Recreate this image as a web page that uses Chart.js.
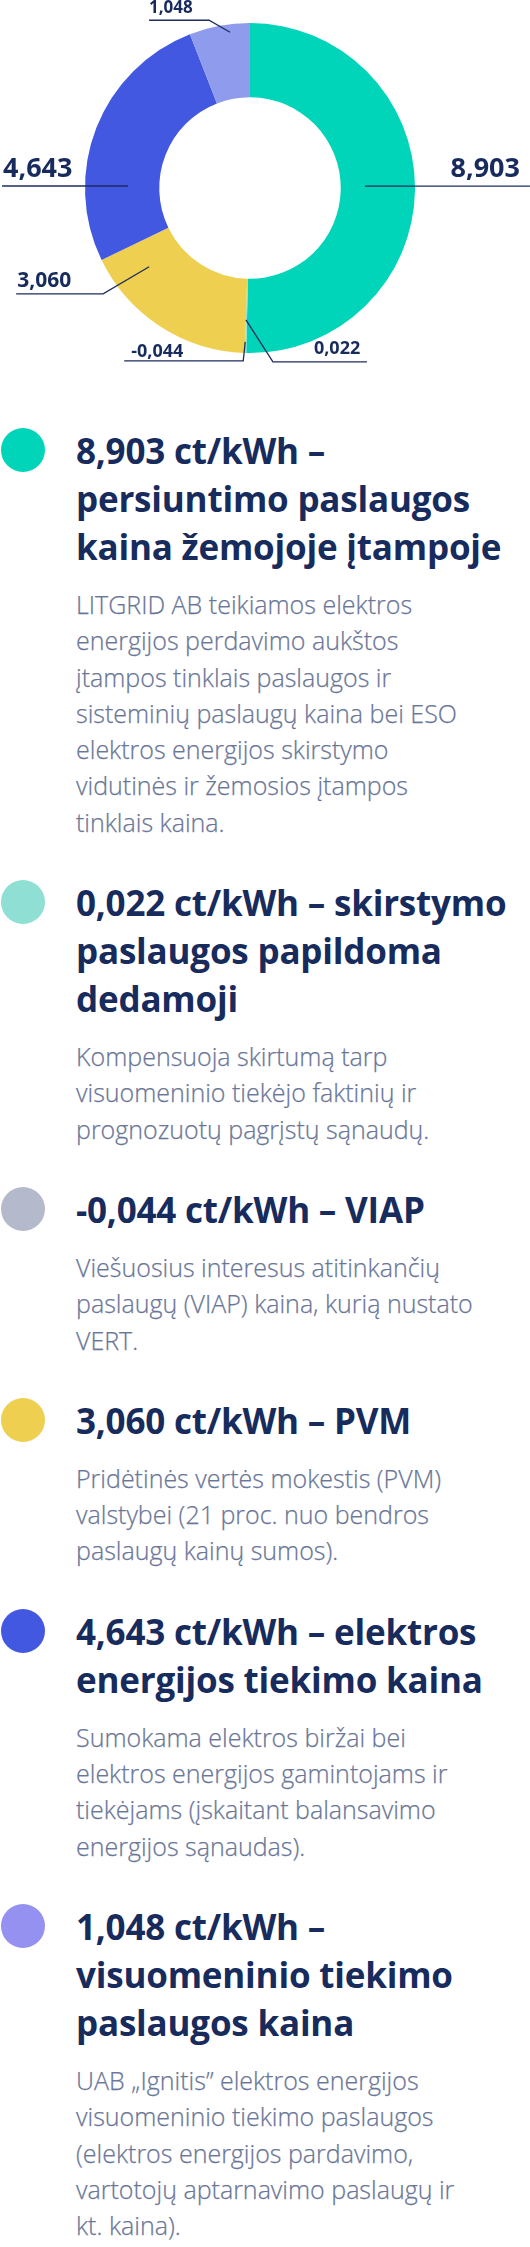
<!DOCTYPE html>
<html lang="lt">
<head>
<meta charset="utf-8">
<script src="https://cdn.jsdelivr.net/npm/chart.js@4/dist/chart.umd.min.js"></script>
<style>
  html, body { margin: 0; padding: 0; background: #ffffff; }
  body { width: 530px; height: 2247px; position: relative; overflow: hidden; font-family: "Open Sans", sans-serif; }
  #chartWrap { position: absolute; left: 0; top: 0; width: 530px; height: 376px; }
  #legend { position: absolute; left: 0; top: 427px; width: 530px; }
  .item { position: relative; padding-left: 76px; }
  .item + .item { margin-top: 39px; }
  .dot { position: absolute; left: 1px; top: 1px; width: 44px; height: 44px; border-radius: 50%; }
  .head { font-weight: 700; font-size: 35px; line-height: 48px; color: #172b5d; white-space: nowrap; letter-spacing: -0.2px; }
  .desc { margin-top: 15px; font-weight: 300; font-size: 25px; line-height: 36.3px; color: #6a7697; white-space: nowrap; -webkit-text-stroke: 0.25px #6a7697; }
</style>
</head>
<body>
<div id="chartWrap"><canvas id="c" width="530" height="376"></canvas></div>
<div id="legend"></div>
<script>
// ---- data ----
const categories = [
  'Persiuntimo paslaugos kaina žemojoje įtampoje',
  'Skirstymo paslaugos papildoma dedamoji',
  'VIAP',
  'PVM',
  'Elektros energijos tiekimo kaina',
  'Visuomeninio tiekimo paslaugos kaina'
];
const values = [8.903, 0.022, -0.044, 3.060, 4.643, 1.048];
const unit = 'ct/kWh';
const headTails = [
  ['', 'persiuntimo paslaugos', 'kaina žemojoje įtampoje'],
  ['skirstymo', 'paslaugos papildoma', 'dedamoji'],
  ['VIAP'],
  ['PVM'],
  ['elektros', 'energijos tiekimo kaina'],
  ['', 'visuomeninio tiekimo', 'paslaugos kaina']
];
const descLines = [
  ['LITGRID AB teikiamos elektros', 'energijos perdavimo aukštos', 'įtampos tinklais paslaugos ir', 'sisteminių paslaugų kaina bei ESO', 'elektros energijos skirstymo', 'vidutinės ir žemosios įtampos', 'tinklais kaina.'],
  ['Kompensuoja skirtumą tarp', 'visuomeninio tiekėjo faktinių ir', 'prognozuotų pagrįstų sąnaudų.'],
  ['Viešuosius interesus atitinkančių', 'paslaugų (VIAP) kaina, kurią nustato', 'VERT.'],
  ['Pridėtinės vertės mokestis (PVM)', 'valstybei (21 proc. nuo bendros', 'paslaugų kainų sumos).'],
  ['Sumokama elektros biržai bei', 'elektros energijos gamintojams ir', 'tiekėjams (įskaitant balansavimo', 'energijos sąnaudas).'],
  ['UAB „Ignitis” elektros energijos', 'visuomeninio tiekimo paslaugos', '(elektros energijos pardavimo,', 'vartotojų aptarnavimo paslaugų ir', 'kt. kaina).']
];

// ---- styles ----
const sliceColors = ['#00d4b9', '#8fdfd5', '#b4b9cc', '#eecf4f', '#4358e0', '#8f9bec'];
const markerColors = ['#00d4b9', '#8fdfd5', '#b4b9cc', '#eecf4f', '#4358e0', '#9591f0'];
const inkColor = '#172b5d';
const lineColor = '#1d2d5e';
// label anchor: fraction along slice angle (f), radius from centre (r),
// leader path offsets from anchor, text offset from anchor
const labelLayout = [
  { f: 0.491, r: 115, path: [[165, 0]], text: [155, -9], align: 'right', size: 27 },
  { f: 1.0, r: 132, path: [[27, 42], [121, 42]], text: [68, 34], align: 'left', size: 18 },
  { f: 0.0, r: 154, path: [[-2, 19], [-121, 19]], text: [-114, 15], align: 'left', size: 18 },
  { f: 0.806, r: 128, path: [[-46, 27], [-133, 27]], text: [-132, 20], align: 'left', size: 21 },
  { f: 0.284, r: 122, path: [[-126, 0]], text: [-125, -9], align: 'left', size: 27 },
  { f: 0.658, r: 157, path: [[-21, -12], [-81, -12]], text: [-81, -19], align: 'left', size: 17 }
];

const fmt = v => v.toFixed(3).replace('.', ',');

// ---- legend (HTML text) ----
const legend = document.getElementById('legend');
values.forEach((v, i) => {
  const item = document.createElement('div');
  item.className = 'item';
  const dot = document.createElement('div');
  dot.className = 'dot';
  dot.style.background = markerColors[i];
  item.appendChild(dot);
  const head = document.createElement('div');
  head.className = 'head';
  const tails = headTails[i];
  const lines = [fmt(v) + ' ' + unit + ' –' + (tails[0] ? ' ' + tails[0] : '')].concat(tails.slice(1));
  lines.forEach(t => { const d = document.createElement('div'); d.textContent = t; head.appendChild(d); });
  item.appendChild(head);
  const desc = document.createElement('div');
  desc.className = 'desc';
  descLines[i].forEach(t => { const d = document.createElement('div'); d.textContent = t; desc.appendChild(d); });
  item.appendChild(desc);
  legend.appendChild(item);
});

// ---- leader-line labels plugin ----
const leaderLabels = {
  id: 'leaderLabels',
  afterDatasetsDraw(chart) {
    const ctx = chart.ctx;
    const meta = chart.getDatasetMeta(0);
    meta.data.forEach((arc, i) => {
      const L = labelLayout[i];
      const p = arc.getProps(['x', 'y', 'startAngle', 'endAngle'], true);
      const a = p.startAngle + L.f * (p.endAngle - p.startAngle);
      const ax = p.x + L.r * Math.cos(a);
      const ay = p.y + L.r * Math.sin(a);
      ctx.save();
      ctx.strokeStyle = lineColor;
      ctx.lineWidth = 1.3;
      ctx.beginPath();
      ctx.moveTo(ax, ay);
      L.path.forEach(([dx, dy]) => ctx.lineTo(ax + dx, ay + dy));
      ctx.stroke();
      ctx.fillStyle = inkColor;
      ctx.font = 'bold ' + L.size + 'px "Open Sans"';
      ctx.textAlign = L.align;
      ctx.textBaseline = 'alphabetic';
      ctx.fillText(fmt(values[i]), ax + L.text[0], ay + L.text[1]);
      ctx.restore();
    });
  }
};

new Chart(document.getElementById('c'), {
  type: 'doughnut',
  data: {
    labels: categories,
    datasets: [{
      // negative component is shown as an empty (zero-width) slice, as in the original
      data: values.map(v => Math.max(v, 0)),
      backgroundColor: sliceColors,
      borderWidth: 0,
      hoverBorderWidth: 0,
      hoverOffset: 0,
      offset: 0
    }]
  },
  options: {
    responsive: false,
    animation: false,
    cutout: '55%',
    layout: { padding: { top: 23, bottom: 23, left: 85, right: 115 } },
    plugins: { legend: { display: false }, tooltip: { enabled: false } },
    events: []
  },
  plugins: [leaderLabels]
});
</script>
</body>
</html>
